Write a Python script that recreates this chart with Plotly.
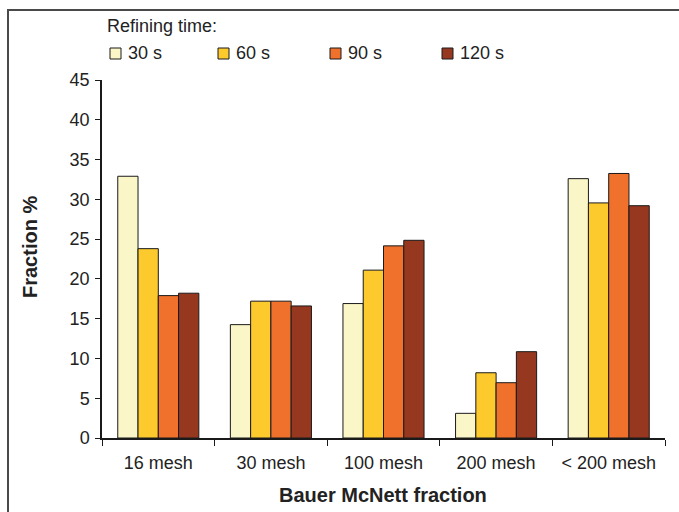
import plotly.graph_objects as go

# Bauer McNett fractionation of pulp at different refining times
categories = ["16 mesh", "30 mesh", "100 mesh", "200 mesh", "< 200 mesh"]
series_names = ["30 s", "60 s", "90 s", "120 s"]
values_30s = [32.9, 14.25, 16.9, 3.1, 32.6]
values_60s = [23.8, 17.2, 21.1, 8.2, 29.55]
values_90s = [17.9, 17.2, 24.15, 6.95, 33.25]
values_120s = [18.2, 16.6, 24.85, 10.85, 29.2]
y_ticks = [0, 5, 10, 15, 20, 25, 30, 35, 40, 45]

colors = ["#FAF6C8", "#FDCA2E", "#F0712C", "#96381F"]
series_values = [values_30s, values_60s, values_90s, values_120s]

W, H = 679, 512
L, R, T, B = 102, 14, 80, 74
PW, PH = W - L - R, H - T - B


def px(x):
    return (x - L) / PW


def py(y):
    return (H - B - y) / PH


FONT = "Liberation Sans, Arial, sans-serif"
TXT = "#222"

fig = go.Figure()
for name, vals, col in zip(series_names, series_values, colors):
    fig.add_trace(go.Bar(
        x=categories, y=vals, name=name,
        marker=dict(color=col, line=dict(color="#1a1a1a", width=1)),
        showlegend=False,
    ))

shapes = []
annotations = []

# outer frame
shapes.append(dict(type="rect", xref="paper", yref="paper",
                   x0=px(8), x1=px(700), y0=py(530), y1=py(10),
                   line=dict(color="#4a4a4a", width=2), fillcolor="rgba(0,0,0,0)",
                   layer="below"))

# legend block
annotations.append(dict(text="Refining time:", xref="paper", yref="paper",
                        x=px(105), y=py(26), xanchor="left", yanchor="middle",
                        showarrow=False, font=dict(family=FONT, size=18, color=TXT)))
sq_x = [110, 218, 330, 442]
for name, col, x0 in zip(series_names, colors, sq_x):
    shapes.append(dict(type="rect", xref="paper", yref="paper",
                       x0=px(x0), x1=px(x0 + 11), y0=py(59), y1=py(48),
                       fillcolor=col, line=dict(color="#1a1a1a", width=1)))
    annotations.append(dict(text=name, xref="paper", yref="paper",
                            x=px(x0 + 16), y=py(53), xanchor="left", yanchor="middle",
                            showarrow=False, font=dict(family=FONT, size=18, color=TXT)))

# axis titles
annotations.append(dict(text="<b>Fraction %</b>", xref="paper", yref="paper",
                        x=px(30), y=py(247), xanchor="center", yanchor="middle",
                        textangle=-90, showarrow=False,
                        font=dict(family=FONT, size=20, color=TXT)))
annotations.append(dict(text="<b>Bauer McNett fraction</b>", xref="paper", yref="paper",
                        x=px(383), y=py(495), xanchor="center", yanchor="middle",
                        showarrow=False, font=dict(family=FONT, size=20, color=TXT)))

fig.update_layout(
    width=W, height=H,
    margin=dict(l=L, r=R, t=T, b=B),
    paper_bgcolor="white", plot_bgcolor="white",
    barmode="group", bargap=0.28, bargroupgap=0,
    font=dict(family=FONT, size=18, color=TXT),
    shapes=shapes, annotations=annotations,
    xaxis=dict(
        automargin=False,
        showline=True, linecolor="#1a1a1a", linewidth=1.5,
        ticks="outside", tickson="boundaries", ticklen=6, tickcolor="#1a1a1a",
        tickfont=dict(size=18, color=TXT), ticklabelstandoff=8,
        showgrid=False,
    ),
    yaxis=dict(
        automargin=False,
        range=[0, 45], tickvals=y_ticks,
        showline=True, linecolor="#1a1a1a", linewidth=1.5,
        ticks="outside", ticklen=5, tickcolor="#1a1a1a",
        tickfont=dict(size=18, color=TXT), ticklabelstandoff=2,
        showgrid=False, zeroline=False,
    ),
)

fig.write_html("out.html")
